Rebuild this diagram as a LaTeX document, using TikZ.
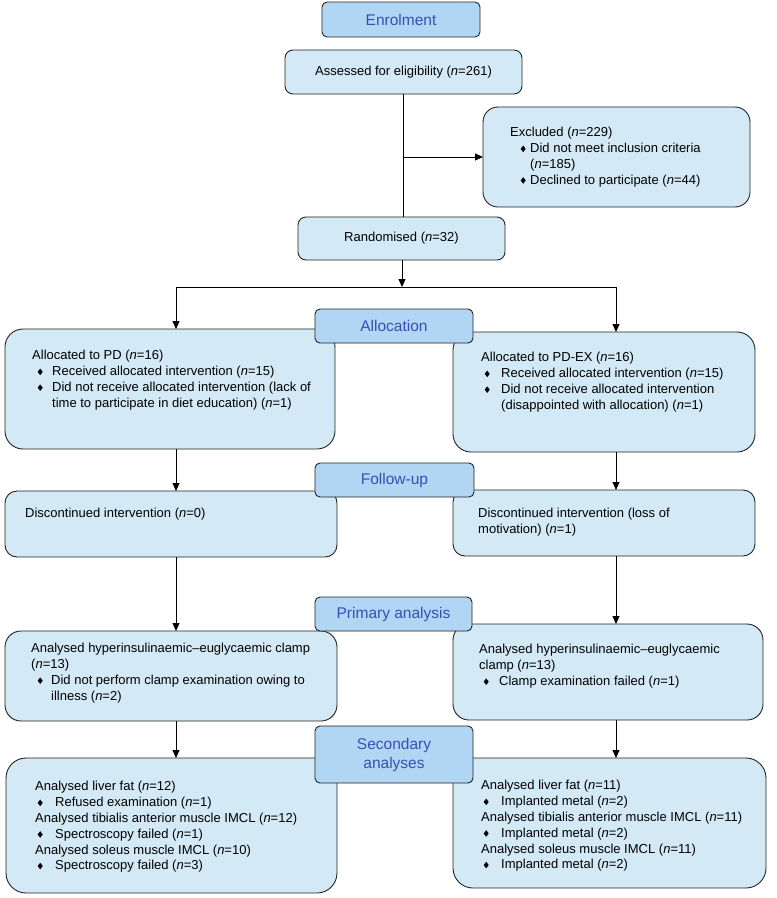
\documentclass[tikz,border=0pt]{standalone}
\usepackage{fontspec}
\setmainfont{Liberation Sans}
\usetikzlibrary{arrows.meta}
\definecolor{boxblue}{RGB}{211,233,245}
\definecolor{labblue}{RGB}{176,214,244}
\definecolor{labtext}{RGB}{58,78,178}
\definecolor{edgec}{RGB}{35,35,35}
\newcommand\nn[1]{(\textit{n}=#1)}
\newcommand\bul[1][7]{\makebox[20pt][l]{\hspace{\dimexpr #1pt-2.5pt\relax}\tikz[baseline=0pt]\fill[black] (0pt,3.8pt) -- (2.5pt,7.1pt) -- (5pt,3.8pt) -- (2.5pt,0.5pt) -- cycle;}}
\newcommand\hl[1]{\multicolumn{2}{@{}l@{}}{#1}}
\newcommand\lines[1]{\begin{tabular}{@{}p{20pt}@{}l@{}}#1\end{tabular}}
\tikzset{
 box/.style={draw=edgec, line width=0.9pt, fill=boxblue, inner sep=0pt, outer sep=0pt, anchor=north west, font=\fontsize{13}{15.8}\selectfont},
 lab/.style={draw=edgec, line width=0.9pt, fill=labblue, rounded corners=5pt, inner sep=0pt, outer sep=0pt, anchor=north west, text=labtext, font=\fontsize{15.5}{19}\selectfont, align=center},
 txt/.style={anchor=north west, inner sep=0pt, font=\fontsize{13}{15.8}\selectfont},
 arr/.style={draw=black, line width=0.8pt, -{Triangle[length=8pt,width=7pt]}},
 ln/.style={draw=black, line width=0.8pt}
}
\begin{document}
\begin{tikzpicture}[x=1pt,y=-1pt]
\path[fill=white,use as bounding box] (0,0) rectangle (777,898);
% boxes
\node[box, rounded corners=8pt, minimum width=237pt, minimum height=44pt] (assess) at (285,50) {Assessed for eligibility \nn{261}};
\node[box, rounded corners=15pt, minimum width=267pt, minimum height=100pt] (excl) at (483,107) {};
\node[box, rounded corners=8pt, minimum width=207pt, minimum height=43pt] (rand) at (298,217) {Randomised \nn{32}};
\node[box, rounded corners=18pt, minimum width=330pt, minimum height=120pt] (pd) at (5,329) {};
\node[box, rounded corners=18pt, minimum width=302pt, minimum height=120pt] (pdex) at (453,332) {};
\node[box, rounded corners=12pt, minimum width=332pt, minimum height=66pt] (d1) at (5,491) {};
\node[box, rounded corners=12pt, minimum width=302pt, minimum height=66pt] (d2) at (453,490) {};
\node[box, rounded corners=16pt, minimum width=332pt, minimum height=90pt] (p1) at (5,631) {};
\node[box, rounded corners=16pt, minimum width=310pt, minimum height=96pt] (p2) at (453,624) {};
\node[box, rounded corners=20pt, minimum width=331pt, minimum height=135pt] (s1) at (6,758) {};
\node[box, rounded corners=20pt, minimum width=313pt, minimum height=130pt] (s2) at (453,758) {};
% texts
\node[txt] (exclt) at (510,125.6) {\lines{\hl{Excluded \nn{229}}\\
\bul[13] & Did not meet inclusion criteria\\
 & \nn{185}\\
\bul[13] & Declined to participate \nn{44}}};
\node[txt] (pdt) at (32,348.6) {\lines{\hl{Allocated to PD \nn{16}}\\
\bul[8] & Received allocated intervention \nn{15}\\
\bul[8] & Did not receive allocated intervention (lack of\\
 & time to participate in diet education) \nn{1}}};
\node[txt] (pdext) at (481,350.6) {\lines{\hl{Allocated to PD-EX \nn{16}}\\
\bul[6] & Received allocated intervention \nn{15}\\
\bul[6] & Did not receive allocated intervention\\
 & (disappointed with allocation) \nn{1}}};
\node[txt] (d1t) at (25,506.6) {\lines{\hl{Discontinued intervention \nn{0}}}};
\node[txt] (d2t) at (478,506.6) {\lines{\hl{Discontinued intervention (loss of}\\
\hl{motivation) \nn{1}}}};
\node[txt] (p1t) at (31,641.6) {\lines{\hl{Analysed hyperinsulinaemic–euglycaemic clamp}\\
\hl{\nn{13}}\\
\bul[9] & Did not perform clamp examination owing to\\
 & illness \nn{2}}};
\node[txt] (p2t) at (479,642.6) {\lines{\hl{Analysed hyperinsulinaemic–euglycaemic}\\
\hl{clamp \nn{13}}\\
\bul[7] & Clamp examination failed \nn{1}}};
\node[txt] (s1t) at (35,779.6) {\lines{\hl{Analysed liver fat \nn{12}}\\
\bul[5] & Refused examination \nn{1}\\
\hl{Analysed tibialis anterior muscle IMCL \nn{12}}\\
\bul[5] & Spectroscopy failed \nn{1}\\
\hl{Analysed soleus muscle IMCL \nn{10}}\\
\bul[5] & Spectroscopy failed \nn{3}}};
\node[txt] (s2t) at (481,778.6) {\lines{\hl{Analysed liver fat \nn{11}}\\
\bul[5] & Implanted metal \nn{2}\\
\hl{Analysed tibialis anterior muscle IMCL \nn{11}}\\
\bul[5] & Implanted metal \nn{2}\\
\hl{Analysed soleus muscle IMCL \nn{11}}\\
\bul[5] & Implanted metal \nn{2}}};
% connectors
\draw[ln] (assess.south) -- (assess.south |- rand.north);
\coordinate (exj) at (assess.south |- excl.west);
\draw[arr] (exj) -- (excl.west);
\coordinate (split) at (402,287);
\coordinate (sl) at (176,287);
\coordinate (sr) at (616,287);
\draw[arr] (rand.south -| split) -- (split);
\draw[ln] (sl) -- (sr);
\draw[arr] (sl) -- (sl |- pd.north);
\draw[arr] (sr) -- (sr |- pdex.north);
\draw[arr] (pd.south -| sl) -- (d1.north -| sl);
\draw[arr] (pdex.south -| sr) -- (d2.north -| sr);
\draw[arr] (d1.south -| sl) -- (p1.north -| sl);
\draw[arr] (d2.south -| sr) -- (p2.north -| sr);
\draw[arr] (p1.south -| sl) -- (s1.north -| sl);
\draw[arr] (p2.south -| sr) -- (s2.north -| sr);
% stage labels
\node[lab, minimum width=158pt, minimum height=35pt] (enrol) at (322,2) {Enrolment};
\node[lab, minimum width=158pt, minimum height=34pt] (alloc) at (315,309) {Allocation};
\node[lab, minimum width=159pt, minimum height=34pt] (fu) at (315,463) {Follow-up};
\node[lab, minimum width=157pt, minimum height=34pt] (pa) at (315,597) {Primary analysis};
\node[lab, minimum width=158pt, minimum height=57pt] (sa) at (315,726) {Secondary\\analyses};
\end{tikzpicture}
\end{document}
